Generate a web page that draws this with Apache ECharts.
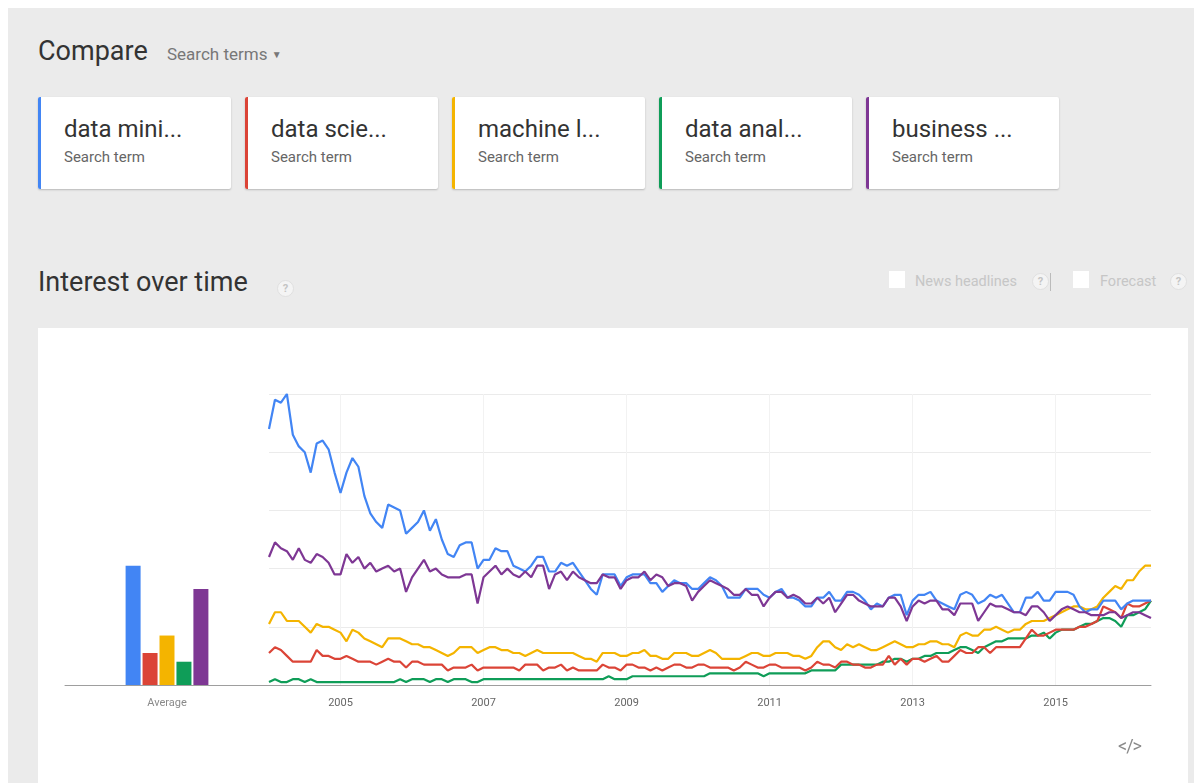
<!DOCTYPE html>
<html>
<head>
<meta charset="utf-8">
<script src="https://cdn.jsdelivr.net/npm/echarts@6/dist/echarts.min.js"></script>
<style>
  html, body { margin: 0; padding: 0; background: #ffffff; width: 1194px; height: 783px; overflow: hidden; font-family: Roboto, "Noto Sans", Arial, sans-serif; }
  #page { position: absolute; left: 8px; top: 8px; width: 1186px; height: 775px; background: #ebebeb; }
  .abs { position: absolute; white-space: nowrap; }
  .h1 { font-size: 27px; color: #333; }
  .sub { font-size: 17px; color: #777; }
  .card { position: absolute; top: 97px; width: 193px; height: 92px; background: #fff; border-radius: 2px; box-shadow: 0 1px 2px rgba(0,0,0,0.22); }
  .card .bar { position: absolute; left: 0; top: 0; width: 3px; height: 92px; border-radius: 2px 0 0 2px; }
  .card .t { position: absolute; left: 26px; top: 18px; font-size: 24px; color: #333; }
  .card .s { position: absolute; left: 26px; top: 51px; font-size: 15px; color: #666; }
  .q { position: absolute; width: 15px; height: 15px; border-radius: 50%; background: #f4f4f4; border: 1px solid #e0e0e0; color: #c4c4c4; font-size: 11px; line-height: 15px; text-align: center; font-weight: bold; }
  .cb { position: absolute; width: 16px; height: 17px; background: #fff; }
  .opt { font-size: 14.5px; color: #c6c6c6; }
  #panel { position: absolute; left: 38px; top: 328px; width: 1150px; height: 455px; background: #fff; }
  #chart { position: absolute; left: 0; top: 0; width: 1150px; height: 455px; }
</style>
</head>
<body>
<div id="page"></div>
<div class="abs h1" style="left:38px; top:35px;">Compare</div>
<div class="abs sub" style="left:167px; top:44px;">Search terms <span style="font-size:10px; position:relative; top:-2px;">&#9660;</span></div>

<div id="cards"></div>

<div class="abs h1" style="left:38px; top:266px;">Interest over time</div>
<div class="q" style="left:277px; top:280px;">?</div>

<div class="cb" style="left:889px; top:271px;"></div>
<div class="abs opt" style="left:915px; top:273px;">News headlines</div>
<div class="q" style="left:1032px; top:273px;">?</div>
<div class="abs" style="left:1050px; top:273px; width:1px; height:18px; background:#bbb;"></div>
<div class="cb" style="left:1073px; top:271px;"></div>
<div class="abs opt" style="left:1100px; top:273px;">Forecast</div>
<div class="q" style="left:1170px; top:273px;">?</div>

<div id="panel"><div id="chart"></div></div>
<div class="abs" style="left:1118px; top:735px; font-size:18px; color:#8a8a8a; letter-spacing:-1px;">&lt;/&gt;</div>

<script>
// ---- data ----
var terms = ['data mining', 'data science', 'machine learning', 'data analytics', 'business intelligence'];
var termLabels = ['data mini...', 'data scie...', 'machine l...', 'data anal...', 'business ...'];
var colors = ['#4285f4', '#db4437', '#f4b400', '#0f9d58', '#7e3794'];
var averages = [41, 11, 17, 8, 33];
var yearLabels = ['2005', '2007', '2009', '2011', '2013', '2015'];
var startYear = 2004, monthCount = 149;

var dataMining = [
  88,98,97,100,86,82,80,73,83,84,81,73,
  66,73,78,75,65,59,56,54,62,61,60,52,
  54,56,60,53,57,50,45,44,48,49,49,40,
  43,43,47,46,46,41,40,39,41,44,44,39,
  39,42,41,42,39,36,33,31,38,38,38,34,
  37,38,38,38,35,35,32,34,36,35,35,33,
  33,35,37,36,34,30,30,30,33,33,33,31,
  30,32,33,30,30,29,27,27,30,30,32,29,
  29,32,32,31,29,26,28,27,30,31,31,24,
  29,31,31,32,29,28,27,26,31,32,31,28,
  29,31,30,31,28,25,25,30,30,32,29,29,
  32,32,32,31,27,25,26,26,29,29,29,26,
  28,29,29,29,29
];
var dataScience = [
  11,13,12,10,8,8,8,8,12,10,10,9,
  9,10,9,8,8,8,7,8,9,8,8,6,
  8,8,7,7,7,7,5,6,6,6,7,5,
  6,6,6,6,6,6,5,7,7,7,5,6,
  6,7,5,6,5,5,5,5,7,6,6,5,
  7,7,6,6,5,6,5,6,7,7,6,6,
  7,7,6,6,6,6,5,6,8,7,6,6,
  7,7,6,6,6,6,5,6,8,7,7,6,
  8,8,7,7,6,6,7,7,10,7,9,7,
  9,9,8,9,10,8,8,10,12,11,11,13,
  13,11,13,13,13,13,13,16,19,17,17,18,
  19,19,19,19,20,20,21,22,27,26,25,23,
  28,27,27,28,29
];
var machineLearning = [
  21,25,25,22,22,22,20,18,21,20,20,19,
  18,15,19,18,16,15,14,13,16,16,16,15,
  14,14,13,13,12,11,10,11,13,13,13,11,
  12,13,13,12,12,11,11,10,11,12,11,11,
  11,11,11,11,10,9,9,8,11,11,11,10,
  10,11,11,12,10,10,9,9,11,11,11,10,
  10,11,12,11,9,9,9,9,10,11,11,10,
  10,11,11,11,10,10,9,10,13,15,15,13,
  12,14,13,14,13,12,12,13,14,15,14,13,
  13,14,14,15,15,14,14,13,17,18,17,17,
  19,19,20,19,18,19,19,21,22,22,22,23,
  24,25,26,27,27,26,26,27,30,32,34,33,
  36,36,39,41,41
];
var dataAnalytics = [
  1,2,1,1,2,2,1,2,1,1,1,1,
  1,1,1,1,1,1,1,1,1,1,2,1,
  2,2,2,1,2,2,1,2,2,2,1,1,
  2,2,2,2,2,2,2,2,2,2,2,2,
  2,2,2,2,2,2,2,2,2,3,2,2,
  2,3,3,3,3,3,3,3,3,3,3,3,
  3,3,4,4,4,4,4,4,4,4,4,3,
  4,4,4,4,4,4,4,5,5,5,5,5,
  7,7,7,7,7,7,7,8,8,9,9,8,
  9,9,10,10,11,11,11,12,13,13,12,11,
  13,14,15,15,16,16,16,16,17,17,18,16,
  18,19,19,19,20,21,21,22,23,23,22,20,
  24,24,25,26,29
];
var businessIntelligence = [
  44,49,47,46,43,47,43,42,45,44,42,38,
  38,45,42,44,40,42,39,40,41,39,40,32,
  37,40,43,39,40,38,37,37,37,38,38,28,
  37,39,41,38,40,38,37,39,37,41,41,33,
  38,39,36,39,37,36,35,35,38,37,37,33,
  36,37,37,39,36,38,37,34,35,35,34,29,
  32,34,36,35,34,33,31,31,33,31,31,27,
  30,32,32,30,31,30,28,28,30,28,30,25,
  28,31,31,29,28,27,27,27,30,30,27,22,
  27,29,28,29,29,26,26,24,28,28,28,22,
  25,28,27,27,26,25,25,24,27,27,25,22,
  24,26,27,26,25,25,24,24,24,25,25,23,
  24,25,25,24,23
];
var seriesData = [dataMining, dataScience, machineLearning, dataAnalytics, businessIntelligence];

// ---- cards ----
var cardLefts = [38, 245, 452, 659, 866];
var cardsEl = document.getElementById('cards');
termLabels.forEach(function (t, i) {
  var c = document.createElement('div');
  c.className = 'card';
  c.style.left = cardLefts[i] + 'px';
  c.innerHTML = '<div class="bar" style="background:' + colors[i] + '"></div><div class="t">' + t + '</div><div class="s">Search term</div>';
  cardsEl.appendChild(c);
});

// ---- months ----
var months = [];
for (var k = 0; k < monthCount; k++) {
  var y = startYear + Math.floor(k / 12), m = (k % 12) + 1;
  months.push(y + '-' + (m < 10 ? '0' + m : m));
}
function isLabelMonth(idx, val) {
  return yearLabels.indexOf(String(val).slice(0, 4)) >= 0 && String(val).slice(5) === '01';
}

var chart = echarts.init(document.getElementById('chart'), null, { renderer: 'canvas' });
var series = [];
terms.forEach(function (t, i) {
  series.push({
    name: t, type: 'bar', xAxisIndex: 0, yAxisIndex: 0,
    data: [averages[i]], barWidth: 15, barGap: '13%',
    itemStyle: { color: colors[i] }, silent: true
  });
});
var drawOrder = [3, 1, 2, 0, 4];
drawOrder.forEach(function (i, z) {
  series.push({
    name: terms[i] + ' line', type: 'line', xAxisIndex: 1, yAxisIndex: 1,
    data: seriesData[i], showSymbol: false, symbol: 'none',
    lineStyle: { color: colors[i], width: 2.2 }, z: 3 + z, silent: true
  });
});

chart.setOption({
  animation: false,
  grid: [
    { left: 27, width: 204, top: 66, height: 291 },
    { left: 231, right: 37, top: 66, height: 291 }
  ],
  xAxis: [
    {
      type: 'category', gridIndex: 0, data: ['Average'],
      axisLine: { lineStyle: { color: '#9e9e9e', width: 1 } },
      axisTick: { show: false },
      axisLabel: { color: '#8a8a8a', fontSize: 11, margin: 13, fontFamily: 'Roboto' }
    },
    {
      type: 'category', gridIndex: 1, data: months, boundaryGap: false,
      axisLine: { lineStyle: { color: '#9e9e9e', width: 1 } },
      axisTick: { show: false },
      axisLabel: {
        color: '#666', fontSize: 11, margin: 13, fontFamily: 'Roboto',
        interval: isLabelMonth,
        formatter: function (v) { return v.slice(0, 4); }
      },
      splitLine: { show: true, interval: isLabelMonth, lineStyle: { color: '#f2f2f2', width: 1 } }
    }
  ],
  yAxis: [
    { type: 'value', gridIndex: 0, min: 0, max: 100, show: false },
    {
      type: 'value', gridIndex: 1, min: 0, max: 100, interval: 20,
      axisLine: { show: false }, axisTick: { show: false }, axisLabel: { show: false },
      splitLine: { lineStyle: { color: '#ebebeb', width: 1 } }
    }
  ],
  series: series
});
</script>
</body>
</html>
